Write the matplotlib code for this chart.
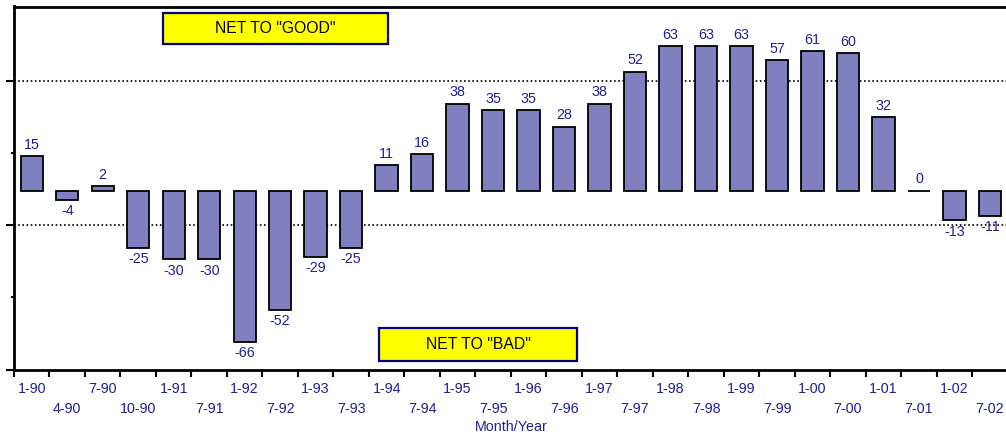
import matplotlib
matplotlib.use("Agg")
import matplotlib.pyplot as plt
from matplotlib.patches import Rectangle
from matplotlib.ticker import FixedLocator, NullFormatter
import numpy as np

plt.rcParams["font.family"] = ["Liberation Sans", "DejaVu Sans"]

# Survey periods (month-year) and net responses
periods = ["1-90", "4-90", "7-90", "10-90", "1-91", "7-91", "1-92", "7-92",
           "1-93", "7-93", "1-94", "7-94", "1-95", "7-95", "1-96", "7-96",
           "1-97", "7-97", "1-98", "7-98", "1-99", "7-99", "1-00", "7-00",
           "1-01", "7-01", "1-02", "7-02"]
net_values = [15, -4, 2, -25, -30, -30, -66, -52, -29, -25, 11, 16, 38, 35,
              35, 28, 38, 52, 63, 63, 63, 57, 61, 60, 32, 0, -13, -11]

# Value axis range and reference levels
y_min, y_max = -78.3, 80.4
major_levels = [-78.3, -14.9, 48.0]
minor_levels = [-46.6, 16.6]

BAR_FILL = "#8080c0"
TEXT_BLUE = "#1f1f96"

W, H = 1006, 438
fig = plt.figure(figsize=(W / 100, H / 100), dpi=100)
ax = fig.add_axes([14 / W, (H - 370) / H, (1007.7 - 14) / W, (370 - 6.5) / H])

x = np.arange(len(periods))
bars = ax.bar(x, net_values, width=0.63, color=BAR_FILL, edgecolor="black",
              linewidth=1.3, zorder=3)

# Value labels above positive bars, below negative bars
for xi, v in zip(x, net_values):
    if v >= 0:
        ax.annotate(f"{v}", (xi, v), xytext=(0, 3), textcoords="offset points",
                    ha="center", va="bottom", fontsize=10.3, color=TEXT_BLUE,
                    zorder=4)
    else:
        ax.annotate(f"{v}", (xi, v), xytext=(0, -3), textcoords="offset points",
                    ha="center", va="top", fontsize=10.3, color=TEXT_BLUE,
                    zorder=4)

ax.set_xlim(-0.5, len(periods) - 0.5)
ax.set_ylim(y_min, y_max)

# Dotted reference lines
for lvl in major_levels[1:]:
    ax.axhline(lvl, color="black", linestyle=(0, (1, 1.5)), linewidth=1.2,
               zorder=1)

# Y axis: unlabeled tick marks
ax.yaxis.set_major_locator(FixedLocator(major_levels))
ax.yaxis.set_minor_locator(FixedLocator(minor_levels))
ax.yaxis.set_major_formatter(NullFormatter())
ax.tick_params(axis="y", which="major", direction="out", length=6, width=1.5)
ax.tick_params(axis="y", which="minor", direction="out", length=2, width=1.5)

# X axis: tick marks at slot boundaries, labels at slot centres in two rows
ax.set_xticks(np.arange(len(periods)) - 0.5)
ax.set_xticklabels([])
ax.set_xticks(x, minor=True)
labels = [p if i % 2 == 0 else "\n" + p for i, p in enumerate(periods)]
ax.set_xticklabels(labels, minor=True, fontsize=10.3, color=TEXT_BLUE,
                   linespacing=1.52)
ax.tick_params(axis="x", which="major", direction="out", length=5, width=1.5)
ax.tick_params(axis="x", which="minor", length=0, pad=8.5)

ax.set_xlabel("Month/Year", fontsize=10.3, color=TEXT_BLUE, labelpad=3.5)

for side in ["left", "bottom", "top"]:
    ax.spines[side].set_linewidth(2)
ax.spines["right"].set_visible(False)


def note_box(x0, y0, x1, y1, text):
    fig.add_artist(Rectangle((x0 / W, 1 - y1 / H), (x1 - x0) / W, (y1 - y0) / H,
                             transform=fig.transFigure, facecolor="#ffff00",
                             edgecolor="#000080", linewidth=1.6, zorder=5))
    fig.text((x0 + x1) / 2 / W, 1 - (y0 + y1) / 2 / H, text, ha="center",
             va="center", fontsize=11.3, color="black", zorder=6)


note_box(163, 12.7, 388, 44.3, 'NET TO "GOOD"')
note_box(379, 328, 577, 361, 'NET TO "BAD"')

fig.savefig("out.png", dpi=100)
